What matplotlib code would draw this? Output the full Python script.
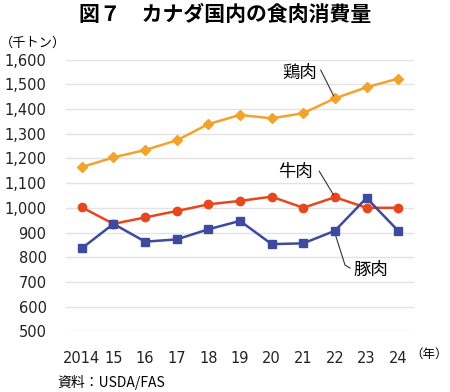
import matplotlib
matplotlib.use("Agg")
import matplotlib.pyplot as plt
from matplotlib.ticker import FuncFormatter

plt.rcParams['font.family'] = ['Noto Sans CJK JP', 'DejaVu Sans']
num_font = ['DejaVu Sans', 'Noto Sans CJK JP']

years = ["2014", "15", "16", "17", "18", "19", "20", "21", "22", "23", "24"]
chicken = [1165, 1204, 1234, 1273, 1339, 1376, 1362, 1383, 1443, 1488, 1523]
beef = [1002, 935, 961, 987, 1014, 1028, 1045, 1000, 1043, 1000, 1000]
pork = [836, 935, 863, 872, 913, 947, 853, 856, 907, 1040, 907]

c_chicken = "#F2A32B"
c_beef = "#E8461E"
c_pork = "#3D4A9E"

fig = plt.figure(figsize=(4.5, 3.92), dpi=100)
ax = fig.add_axes([0.1467, 0.1548, 0.7733, 0.6932])

x = list(range(len(years)))
ax.plot(x, chicken, color=c_chicken, lw=1.8, marker="D", ms=5, zorder=3)
ax.plot(x, beef, color=c_beef, lw=1.8, marker="o", ms=6, zorder=3)
ax.plot(x, pork, color=c_pork, lw=1.8, marker="s", ms=6, zorder=4)

ax.set_xlim(-0.5, len(years) - 0.5)
ax.set_ylim(500, 1600)
ax.set_yticks(range(500, 1601, 100))
ax.yaxis.set_major_formatter(FuncFormatter(lambda v, p: f"{int(v):,}"))
ax.set_xticks(x)
ax.set_xticklabels(years)
ax.grid(axis="y", color="#E3E3E3", lw=1)
ax.set_axisbelow(True)
for s in ax.spines.values():
    s.set_visible(False)
ax.tick_params(length=0, labelsize=10.5, colors="#222222")
ax.tick_params(axis="y", pad=14)
ax.tick_params(axis="x", pad=14)
for lab in ax.get_xticklabels() + ax.get_yticklabels():
    lab.set_family(num_font)

# series labels with leader lines
lw_lead = 0.8
ax.text(6.9, 1546, "鶏肉", fontsize=12.5, ha="center", va="center")
ax.annotate("", xy=(8, chicken[8]), xytext=(7.55, 1558),
            arrowprops=dict(arrowstyle="-", color="#333333", lw=lw_lead,
                            shrinkA=0, shrinkB=2))
ax.text(6.74, 1145, "牛肉", fontsize=12.5, ha="center", va="center")
ax.annotate("", xy=(8, beef[8]), xytext=(7.5, 1149),
            arrowprops=dict(arrowstyle="-", color="#333333", lw=lw_lead,
                            shrinkA=0, shrinkB=2))
ax.text(9.14, 748, "豚肉", fontsize=12.5, ha="center", va="center")
ax.plot([8, 8.32, 8.48], [pork[8] - 10, 768, 756], color="#333333", lw=lw_lead,
        zorder=2)

fig.text(0.5, 0.962, "図７　カナダ国内の食肉消費量", fontsize=15,
         fontweight="bold", ha="center", va="center")
fig.text(0.0, 0.89, "（千トン）", fontsize=9.5, ha="left", va="center")
fig.text(0.995, 0.097, "（年）", fontsize=9, ha="right", va="center")
fig.text(0.128, 0.025, "資料：USDA/FAS", fontsize=10, ha="left", va="center",
         family=['Noto Sans CJK JP', 'DejaVu Sans'])

fig.savefig("out.png", dpi=100)
